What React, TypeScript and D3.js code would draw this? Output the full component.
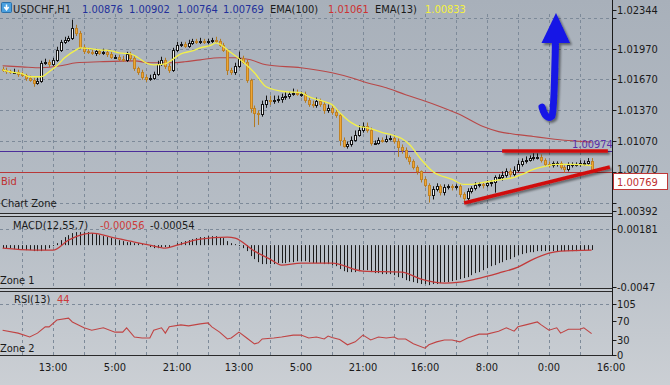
import React from 'react';
import * as d3 from 'd3';

const W = 670;
const H = 385;
const PIP = 0.0001;

// ---------- DATA ----------
const firstOpen = 1.01773;
const closes = [
  1.01763, 1.01754, 1.01744, 1.01744, 1.01725, 1.01715, 1.01686, 1.01667, 1.01638, 1.01657,
  1.01831, 1.01841, 1.01821, 1.0186, 1.01957, 1.02034, 1.02054, 1.02073, 1.0217, 1.02121,
  1.01986, 1.01947, 1.01938, 1.01928, 1.01947, 1.01928, 1.01938, 1.01918, 1.01889, 1.01889,
  1.0187, 1.0186, 1.01918, 1.0188, 1.01783, 1.01744, 1.01696, 1.01676, 1.01686, 1.01725,
  1.01821, 1.0186, 1.01802, 1.01763, 1.01957, 1.02005, 1.02015, 1.01996, 1.02025, 1.02044,
  1.02034, 1.02044, 1.02034, 1.02044, 1.02054, 1.02044, 1.02005, 1.01957, 1.01763, 1.01744,
  1.01802, 1.0188, 1.01841, 1.01667, 1.01396, 1.01347, 1.01338, 1.01434, 1.01473, 1.01463,
  1.01473, 1.01483, 1.01502, 1.01512, 1.01531, 1.01541, 1.01531, 1.01531, 1.01473, 1.01434,
  1.01425, 1.01463, 1.01434, 1.01376, 1.01396, 1.01357, 1.01328, 1.01086, 1.01028, 1.01047,
  1.01086, 1.01134, 1.01183, 1.01221, 1.01183, 1.01057, 1.01057, 1.01086, 1.01076, 1.01096,
  1.01105, 1.01076, 1.01018, 1.00989, 1.00912, 1.00873, 1.00815, 1.00776, 1.00699, 1.00641,
  1.00544, 1.00602, 1.00631, 1.00573, 1.00621, 1.00631, 1.00621, 1.00631, 1.00554, 1.00515,
  1.00583, 1.00612, 1.00641, 1.0065, 1.00641, 1.0066, 1.0067, 1.00718, 1.00718, 1.00737,
  1.00776, 1.00747, 1.00786, 1.00844, 1.00873, 1.00892, 1.00902, 1.00912, 1.00921, 1.00883,
  1.00844, 1.00834, 1.00854, 1.00854, 1.00815, 1.00796, 1.00834, 1.00844, 1.00844, 1.00854,
  1.00863, 1.00876, 1.00769,
];
const upperWick = [
  2, 2, 1, 3, 2, 2, 1, 2, 2, 3,
  2, 3, 2, 2, 3, 2, 3, 2, 8, 3,
  2, 2, 3, 2, 2, 1, 3, 2, 2, 2,
  2, 3, 2, 2, 2, 1, 2, 2, 3, 2,
  3, 3, 2, 2, 2, 3, 2, 2, 3, 2,
  2, 3, 2, 2, 2, 3, 2, 2, 1, 2,
  3, 6, 2, 2, 1, 2, 2, 3, 4, 4,
  4, 3, 3, 4, 2, 4, 3, 2, 2, 2,
  3, 3, 2, 2, 3, 2, 2, 1, 2, 2,
  3, 4, 4, 3, 3, 2, 2, 2, 2, 3,
  2, 2, 2, 2, 2, 2, 2, 2, 1, 2,
  2, 3, 3, 2, 3, 2, 2, 2, 2, 2,
  3, 2, 3, 2, 2, 3, 2, 2, 3, 4,
  3, 3, 4, 4, 3, 3, 3, 4, 3, 2,
  2, 3, 2, 2, 2, 2, 3, 2, 2, 3,
  2, 3, 3,
];
const lowerWick = [
  2, 3, 2, 2, 3, 2, 3, 2, 4, 2,
  2, 2, 3, 2, 2, 2, 2, 2, 2, 3,
  2, 3, 2, 2, 3, 2, 2, 3, 2, 2,
  2, 2, 2, 3, 3, 3, 3, 3, 2, 2,
  2, 2, 3, 3, 2, 2, 2, 2, 2, 2,
  2, 2, 2, 2, 2, 2, 2, 2, 5, 3,
  3, 2, 2, 3, 5, 14, 11, 3, 4, 4,
  3, 3, 4, 3, 3, 2, 2, 3, 3, 3,
  3, 3, 3, 4, 3, 3, 3, 6, 2, 3,
  3, 2, 2, 3, 3, 3, 2, 2, 2, 2,
  2, 3, 10, 4, 2, 3, 2, 3, 3, 2,
  7, 4, 2, 3, 3, 2, 3, 2, 3, 3,
  2, 2, 2, 2, 3, 2, 3, 10, 2, 3,
  2, 3, 2, 2, 2, 2, 2, 2, 2, 2,
  2, 2, 2, 3, 2, 3, 2, 2, 2, 2,
  2, 2, 1,
];
const ema13Idx = [0, 2, 5, 7, 10, 12, 14, 16, 19, 20, 23, 25, 28, 30, 33, 35, 37, 39, 42, 43, 46, 49, 51, 54, 55, 59, 62, 65, 68, 73, 77, 79, 83, 85, 87, 90, 92, 94, 98, 101, 103, 105, 108, 111, 116, 119, 121, 124, 129, 132, 134, 137, 140, 143, 147, 152];
const ema13Val = [1.01763, 1.01744, 1.01725, 1.01696, 1.01696, 1.01744, 1.01802, 1.0188, 1.01957, 1.01976, 1.01967, 1.01957, 1.01947, 1.01928, 1.01918, 1.0188, 1.01831, 1.01812, 1.01821, 1.01841, 1.01918, 1.01947, 1.01976, 1.02005, 1.02025, 1.01928, 1.01841, 1.01734, 1.01599, 1.0155, 1.01541, 1.01502, 1.01454, 1.01425, 1.01347, 1.0125, 1.01212, 1.01202, 1.01154, 1.01125, 1.01096, 1.01037, 1.00892, 1.00776, 1.00699, 1.0065, 1.0065, 1.0067, 1.00699, 1.00718, 1.00747, 1.00796, 1.00825, 1.00844, 1.00844, 1.00833];
const ema100Idx = [0, 5, 10, 15, 19, 25, 34, 38, 43, 47, 51, 56, 60, 64, 68, 77, 85, 90, 94, 99, 104, 108, 113, 118, 124, 128, 133, 137, 141, 146, 152];
const ema100Val = [1.01802, 1.01792, 1.01783, 1.01802, 1.01831, 1.01841, 1.0185, 1.01831, 1.01831, 1.01841, 1.0186, 1.0188, 1.0188, 1.0186, 1.01812, 1.01783, 1.01734, 1.01686, 1.01638, 1.01589, 1.01521, 1.01473, 1.01405, 1.01328, 1.01212, 1.01163, 1.01134, 1.01115, 1.01096, 1.01076, 1.01061];

const macdHist = [
  -0.00034, -0.00034, -0.00034, -0.00045, -0.00045, -0.00045, -0.00056, -0.00056, -0.00067, -0.00067,
  -0.00067, -0.00056, -0.00034, -0.00011, 0.00022, 0.00056, 0.0009, 0.00112, 0.00135, 0.00146,
  0.00146, 0.00146, 0.00146, 0.00135, 0.00123, 0.00112, 0.00101, 0.0009, 0.00079, 0.00067,
  0.00056, 0.00045, 0.00034, 0.00034, 0.00022, 0.00022, 0.00011, 0.0, -0.00022, -0.00034,
  -0.00034, -0.00022, -0.00022, -0.00022, 0.0, 0.00022, 0.00034, 0.00045, 0.00056, 0.00067,
  0.00079, 0.0009, 0.0009, 0.00101, 0.00101, 0.00101, 0.0009, 0.00079, 0.00045, 0.00022,
  0.00011, -0.00011, -0.00034, -0.00067, -0.00123, -0.00157, -0.00191, -0.00213, -0.00213, -0.00213,
  -0.00213, -0.00202, -0.00202, -0.00202, -0.00191, -0.00191, -0.0018, -0.0018, -0.0018, -0.00191,
  -0.00202, -0.00202, -0.00202, -0.00213, -0.00213, -0.00224, -0.00236, -0.00269, -0.00292, -0.00303,
  -0.00303, -0.00303, -0.00292, -0.00281, -0.00281, -0.00303, -0.00314, -0.00314, -0.00325, -0.00325,
  -0.00325, -0.00337, -0.00359, -0.0037, -0.00393, -0.00404, -0.00415, -0.00426, -0.00437, -0.00437,
  -0.00449, -0.00437, -0.00437, -0.00426, -0.00415, -0.00415, -0.00404, -0.00393, -0.00382, -0.0037,
  -0.00359, -0.00337, -0.00314, -0.00303, -0.00281, -0.00258, -0.00236, -0.00224, -0.00202, -0.00191,
  -0.00168, -0.00157, -0.00135, -0.00112, -0.00101, -0.0009, -0.00079, -0.00079, -0.00067, -0.00067,
  -0.00067, -0.00067, -0.00067, -0.00067, -0.00067, -0.00067, -0.00067, -0.00067, -0.00067, -0.00056,
  -0.00056, -0.00056, -0.00054,
];
const signalIdx = [0, 8, 13, 17, 21, 23, 28, 34, 38, 42, 45, 51, 58, 60, 65, 69, 72, 77, 85, 93, 103, 108, 114, 118, 122, 128, 133, 137, 141, 144, 152];
const signalVal = [-0.00034, -0.00056, -0.00056, 0.00056, 0.00123, 0.00135, 0.0009, 0.00034, 0.0, -0.00034, 0.0, 0.00067, 0.0009, 0.00079, -0.00067, -0.00157, -0.00224, -0.00202, -0.00202, -0.00292, -0.00303, -0.00382, -0.00427, -0.00415, -0.00382, -0.00314, -0.00247, -0.00157, -0.0009, -0.00067, -0.00056];

const rsiIdx = [0, 4, 7, 9, 11, 12, 14, 17, 18, 21, 23, 26, 29, 31, 32, 34, 36, 38, 39, 41, 42, 43, 46, 48, 51, 53, 54, 56, 58, 59, 61, 63, 65, 66, 67, 70, 72, 75, 77, 79, 81, 83, 84, 85, 87, 89, 91, 93, 95, 97, 99, 101, 102, 104, 106, 109, 110, 112, 114, 116, 118, 120, 123, 125, 128, 130, 132, 133, 135, 138, 139, 141, 143, 144, 146, 149, 150, 152];
const rsiVal = [51, 45, 37, 45, 58, 58, 72, 76, 68, 56, 51, 56, 47, 47, 56, 37, 35, 35, 51, 56, 45, 58, 62, 60, 64, 66, 58, 47, 33, 35, 47, 35, 23, 25, 33, 35, 37, 41, 41, 35, 37, 33, 39, 36, 32, 21, 27, 41, 31, 37, 35, 37, 33, 33, 23, 14, 21, 27, 31, 31, 27, 35, 43, 43, 49, 56, 49, 58, 62, 68, 62, 51, 56, 45, 53, 53, 56, 44];

const priceGrid = [1.0227, 1.0197, 1.0167, 1.0137, 1.0107, 1.0077, 1.0047];
const priceTickLabels = ['1.01970', '1.01670', '1.01370', '1.01070', '1.00770'];
const priceTickValues = [1.0197, 1.0167, 1.0137, 1.0107, 1.0077];
const priceMax = 1.02344;
const priceMin = 1.00392;
const bidPrice = 1.00769;
const levelPrice = 1.00974;
const macdMax = 0.00181;
const macdMin = -0.0047;
const rsiTicks = [105, 70, 30, 0];
const timeLabels = ['13:00', '5:00', '21:00', '13:00', '5:00', '21:00', '16:00', '8:00', '0:00', '16:00'];
const timeLabelIdx = [13, 29, 45, 61, 77, 93, 109, 125, 141, 157];
const gridIdx = d3.range(5, 153, 8);
const header = { sym: 'USDCHF,H1', o: '1.00876', h: '1.00902', l: '1.00764', c: '1.00769', ema100: '1.01061', ema13: '1.00833' };
// hand-drawn trend lines on the chart: [barIndex, price]
const resistance = [[128.9, 1.00974], [156.2, 1.00974]];
const support = [[119.1, 1.0047], [156.7, 1.00819]];

const FONT = "'DejaVu Sans Condensed', 'Liberation Sans Narrow', 'Liberation Sans', sans-serif";

export default function App() {
  const x = d3.scaleLinear().domain([0, 152]).range([2.6, 591.6]);
  const y = d3.scaleLinear().domain([priceMin, priceMax]).range([211, 10]);
  const ym = d3.scaleLinear().domain([macdMin, macdMax]).range([287, 229]);
  const yr = d3.scaleLinear().domain([0, 105]).range([355, 304]);
  const AX = 612.5;

  const ema13Line = d3.line<number>().x((_, k) => x(ema13Idx[k])).y((v) => y(v)).curve(d3.curveMonotoneX)(ema13Val) || '';
  const ema100Line = d3.line<number>().x((_, k) => x(ema100Idx[k])).y((v) => y(v)).curve(d3.curveMonotoneX)(ema100Val) || '';
  const sigLine = d3.line<number>().x((_, k) => x(signalIdx[k])).y((v) => ym(v)).curve(d3.curveMonotoneX)(signalVal) || '';
  const rsiLine = d3.line<number>().x((_, k) => x(rsiIdx[k])).y((v) => yr(v))(rsiVal) || '';

  const snap = (v: number) => Math.round(v) + 0.5;
  const dash = '3,3';
  const gridColor = '#7d8a99';

  const vGrid = (y1: number, y2: number) =>
    gridIdx.map((i) => (
      <line key={`g${y1}-${i}`} x1={snap(x(i))} x2={snap(x(i))} y1={y1} y2={y2} stroke={gridColor} strokeDasharray={dash} strokeWidth={1} />
    ));

  return (
    <svg width={W} height={H} style={{ position: 'absolute', left: 0, top: 0, fontFamily: FONT }}>
      <defs>
        <linearGradient id="bg" x1="0" y1="0" x2="0" y2="1">
          <stop offset="0" stopColor="#a8b0ba" />
          <stop offset="0.6" stopColor="#b7bec6" />
          <stop offset="1" stopColor="#cbcfd4" />
        </linearGradient>
        <filter id="shadow" x="-20%" y="-20%" width="140%" height="140%">
          <feDropShadow dx="2" dy="2" stdDeviation="1.2" floodColor="#000" floodOpacity="0.45" />
        </filter>
        <clipPath id="mainClip">
          <rect x={0} y={0} width={612} height={212} />
        </clipPath>
      </defs>
      <rect x={0} y={0} width={W} height={H} fill="url(#bg)" />

      {/* main grid */}
      {priceGrid.map((p) => (
        <line key={`hg${p}`} x1={0} x2={612} y1={snap(y(p))} y2={snap(y(p))} stroke={gridColor} strokeDasharray={dash} />
      ))}
      {vGrid(14, 212)}

      {/* level lines */}
      <line x1={0} x2={612} y1={snap(y(levelPrice))} y2={snap(y(levelPrice))} stroke="#4b2f9a" strokeWidth={1} />
      <line x1={0} x2={612} y1={snap(y(bidPrice))} y2={snap(y(bidPrice))} stroke="#b83838" strokeWidth={1} />

      <g clipPath="url(#mainClip)">
        <path d={ema100Line} fill="none" stroke="#b84848" strokeWidth={1.1} />
        {closes.map((c, i) => {
          const o = i === 0 ? firstOpen : closes[i - 1];
          const up = c >= o;
          const hi = Math.max(o, c) + upperWick[i] * PIP;
          const lo = Math.min(o, c) - lowerWick[i] * PIP;
          const cx = snap(x(i));
          const yt = Math.round(y(Math.max(o, c))) + 0.5;
          const yb = Math.max(yt + 1, Math.round(y(Math.min(o, c))) + 0.5);
          const wc = up ? '#151515' : '#b27a22';
          return (
            <g key={i}>
              <line x1={cx} x2={cx} y1={y(hi)} y2={y(lo)} stroke={wc} strokeWidth={1} />
              <rect x={cx - 1} y={yt} width={2} height={yb - yt} fill={up ? '#f4f4f4' : '#f0a634'} stroke={up ? '#151515' : '#c08326'} strokeWidth={1} />
            </g>
          );
        })}
        <path d={ema13Line} fill="none" stroke="#f2f04a" strokeWidth={1.3} />
      </g>

      {/* trend lines */}
      <g filter="url(#shadow)">
        <line x1={x(resistance[0][0])} y1={y(resistance[0][1])} x2={x(resistance[1][0])} y2={y(resistance[1][1])} stroke="#d01010" strokeWidth={3.5} />
        <line x1={x(support[0][0])} y1={y(support[0][1])} x2={x(support[1][0])} y2={y(support[1][1])} stroke="#d01010" strokeWidth={3.5} />
      </g>

      {/* blue arrow */}
      <g filter="url(#shadow)">
        <path d="M 542 107 Q 546 121 552 116 Q 554 112 555.5 40" fill="none" stroke="#1414e6" strokeWidth={7} strokeLinecap="round" />
        <path d="M 541.5 43 L 556 13 L 570 43 Z" fill="#1414e6" />
      </g>

      {/* labels in main */}
      <text x={572} y={148} fontSize={11} fill="#5a2fa8">1.00974</text>
      <text x={1} y={185} fontSize={11} fill="#c03030">Bid</text>
      <text x={1} y={207} fontSize={11} fill="#1a1a1a">Chart Zone</text>

      {/* header */}
      <rect x={1.5} y={2.5} width={10} height={10} fill="#4aa0e0" stroke="#2b6fa8" rx={1} />
      <path d="M 6.5 4.5 L 6.5 9 M 4.3 7 L 6.5 9.7 L 8.7 7" stroke="#fff" strokeWidth={1.5} fill="none" />
      <text y={13} fontSize={11}>
        <tspan x={13} fill="#1a1a1a">{header.sym}</tspan>
        <tspan x={82} fill="#23309a">{header.o}</tspan>
        <tspan x={129} fill="#23309a">{header.h}</tspan>
        <tspan x={177} fill="#23309a">{header.l}</tspan>
        <tspan x={223} fill="#23309a">{header.c}</tspan>
        <tspan x={270} fill="#1a1a1a">EMA(100)</tspan>
        <tspan x={328} fill="#cc3333">{header.ema100}</tspan>
        <tspan x={375} fill="#1a1a1a">EMA(13)</tspan>
        <tspan x={425} fill="#f4f040">{header.ema13}</tspan>
      </text>

      {/* separators */}
      <rect x={0} y={213} width={612} height={3} fill="#c5cad0" />
      <line x1={0} x2={612} y1={213.5} y2={213.5} stroke="#2a2a2a" />
      <line x1={0} x2={612} y1={216.5} y2={216.5} stroke="#2a2a2a" />
      <rect x={0} y={288} width={612} height={3} fill="#c5cad0" />
      <line x1={0} x2={612} y1={288.5} y2={288.5} stroke="#2a2a2a" />
      <line x1={0} x2={612} y1={291.5} y2={291.5} stroke="#2a2a2a" />
      <line x1={0} x2={612} y1={355.5} y2={355.5} stroke="#2a2a2a" />

      {/* MACD panel */}
      <line x1={0} x2={612} y1={snap(ym(macdMax))} y2={snap(ym(macdMax))} stroke={gridColor} strokeDasharray={dash} />
      {vGrid(229, 288)}
      {macdHist.map((v, i) => (
        <line key={`h${i}`} x1={snap(x(i))} x2={snap(x(i))} y1={ym(0)} y2={ym(v)} stroke="#1c1c1c" strokeWidth={1} />
      ))}
      <path d={sigLine} fill="none" stroke="#c23a3a" strokeWidth={1.3} />
      <text y={229} fontSize={11}>
        <tspan x={13} fill="#1a1a1a">MACD(12,55,7)</tspan>
        <tspan x={100} fill="#cc3a3a">-0.00056</tspan>
        <tspan x={150} fill="#1a1a1a">-0.00054</tspan>
      </text>
      <text x={0} y={284} fontSize={11} fill="#1a1a1a">Zone 1</text>

      {/* RSI panel */}
      <line x1={0} x2={612} y1={snap(yr(105))} y2={snap(yr(105))} stroke={gridColor} strokeDasharray={dash} />
      {vGrid(304, 355)}
      <path d={rsiLine} fill="none" stroke="#c04444" strokeWidth={1.1} />
      <text y={303} fontSize={11}>
        <tspan x={14} fill="#1a1a1a">RSI(13)</tspan>
        <tspan x={57} fill="#cc3a3a">44</tspan>
      </text>
      <text x={0} y={352} fontSize={11} fill="#1a1a1a">Zone 2</text>

      {/* right axis */}
      <line x1={AX} x2={AX} y1={0} y2={356} stroke="#1a1a1a" />
      {[...priceGrid, priceMax, priceMin].map((p) => (
        <line key={`pt${p}`} x1={AX} x2={AX + 4} y1={snap(y(p))} y2={snap(y(p))} stroke="#1a1a1a" />
      ))}
      <text x={617} y={y(priceMax) + 4} fontSize={11} fill="#1a1a1a">1.02344</text>
      {priceTickValues.map((p, k) => (
        <text key={`pl${p}`} x={617} y={Math.min(y(p) + 4, 172.5)} fontSize={11} fill="#1a1a1a">{priceTickLabels[k]}</text>
      ))}
      <text x={617} y={y(priceMin) + 4} fontSize={11} fill="#1a1a1a">1.00392</text>

      {/* bid price box */}
      <rect x={613.5} y={173.5} width={54} height={16} fill="#ffffff" stroke="#c03838" />
      <text x={617} y={185.5} fontSize={11} fill="#c03030">1.00769</text>

      {[macdMax, macdMin].map((v) => (
        <line key={`mt${v}`} x1={AX} x2={AX + 4} y1={snap(ym(v))} y2={snap(ym(v))} stroke="#1a1a1a" />
      ))}
      <text x={617} y={ym(macdMax) + 4} fontSize={11} fill="#1a1a1a">0.00181</text>
      <text x={617} y={ym(macdMin) + 4} fontSize={11} fill="#1a1a1a">-0.0047</text>

      {rsiTicks.map((v) => (
        <g key={`rt${v}`}>
          <line x1={AX} x2={AX + 4} y1={snap(yr(v))} y2={snap(yr(v))} stroke="#1a1a1a" />
          <text x={617} y={yr(v) + 4} fontSize={11} fill="#1a1a1a">{v}</text>
        </g>
      ))}

      {/* time axis */}
      {timeLabels.map((t, k) => (
        <text key={`t${k}`} x={Math.min(x(timeLabelIdx[k]), 611)} y={371} fontSize={11} textAnchor="middle" fill="#1a1a1a">{t}</text>
      ))}
    </svg>
  );
}
